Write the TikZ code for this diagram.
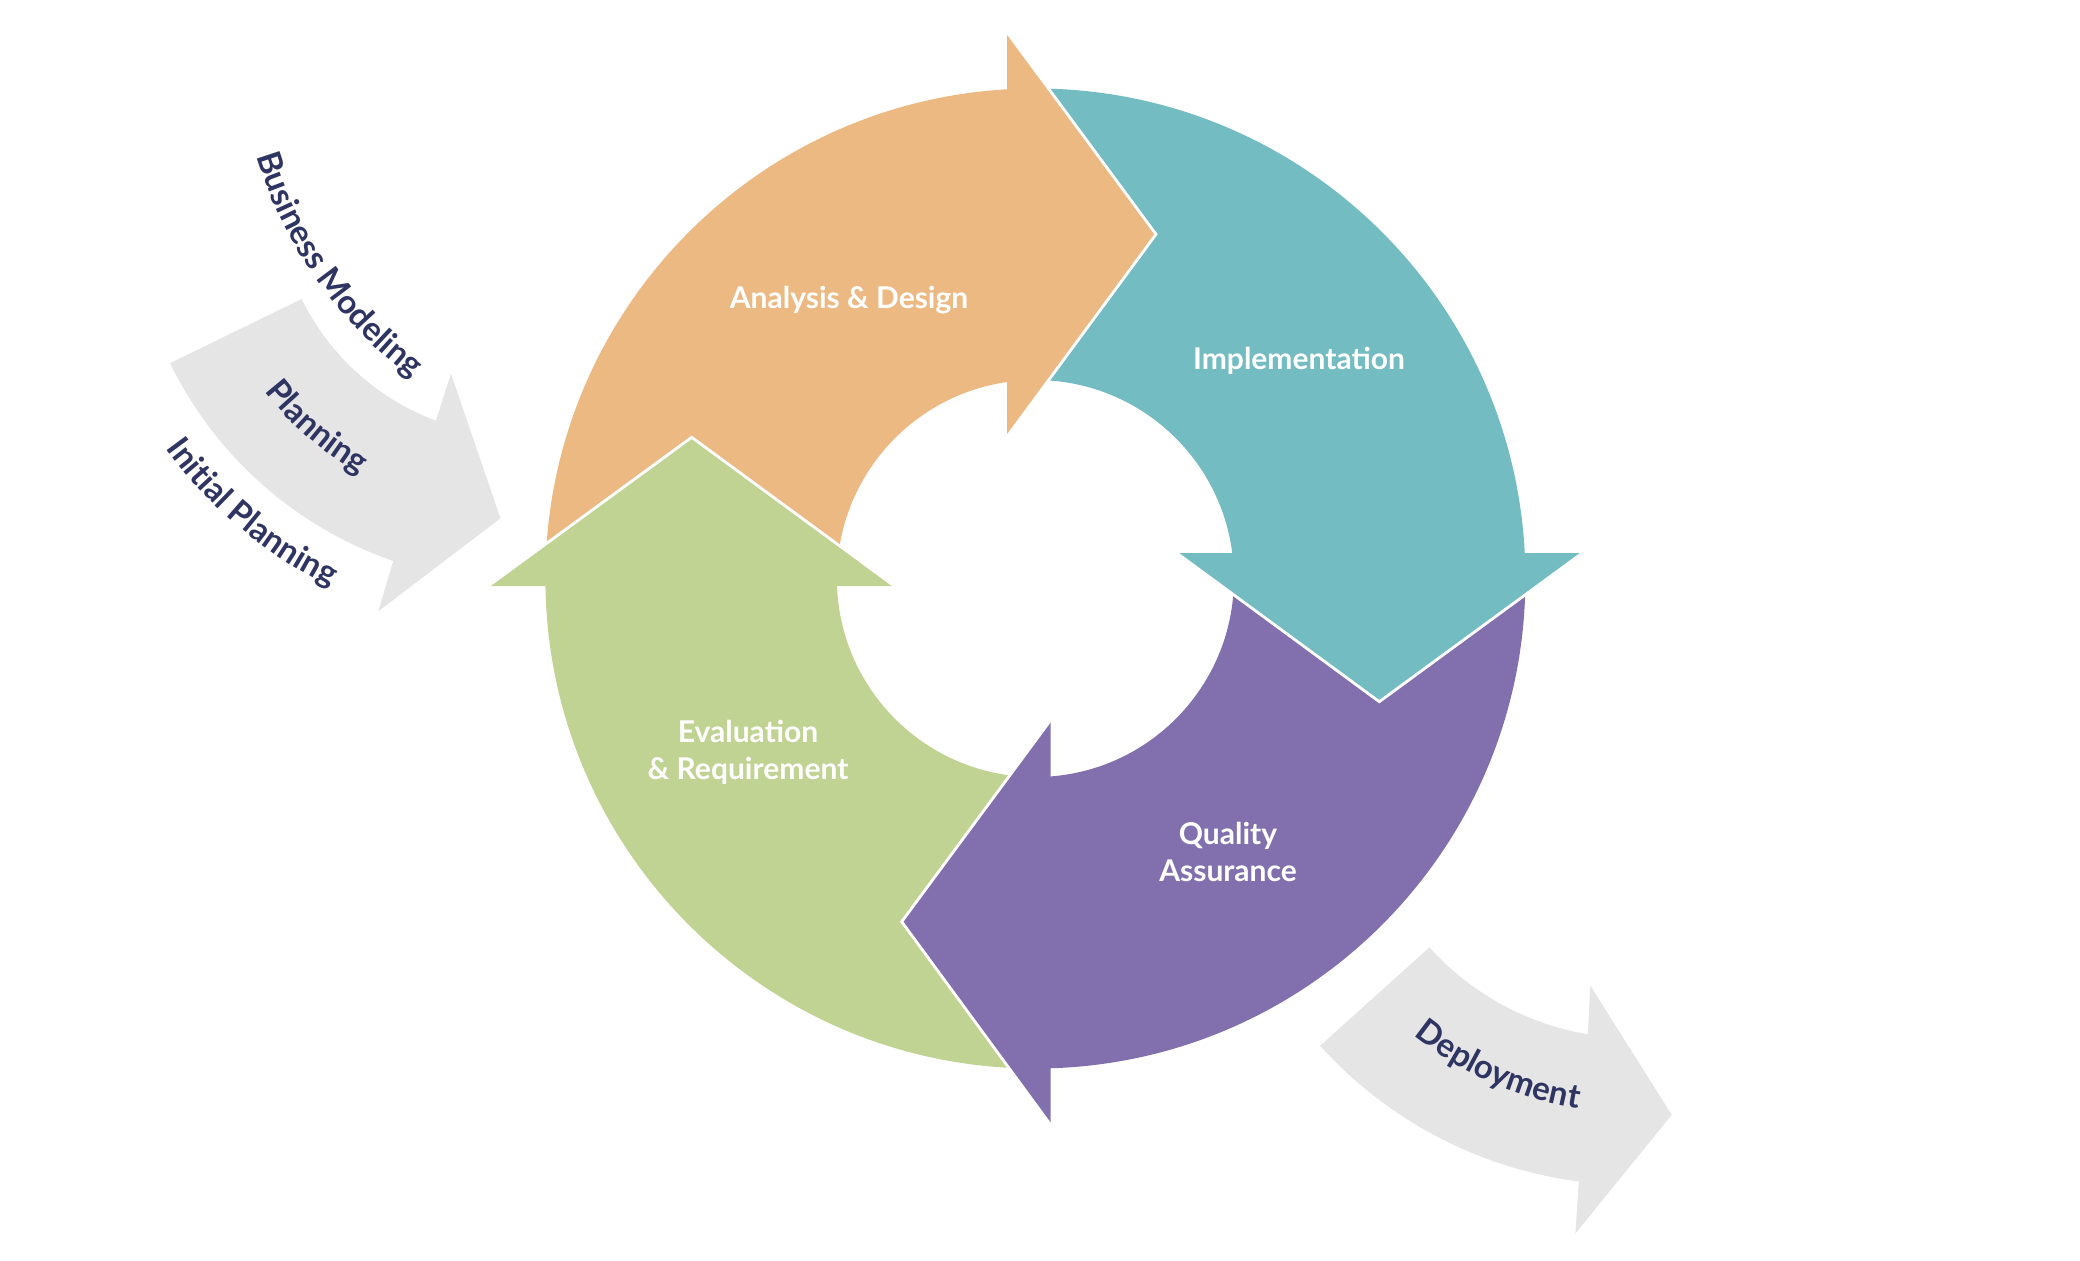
\documentclass[tikz,border=0pt]{standalone}
\usepackage{fontspec}
\setmainfont{Lato}
\usetikzlibrary{decorations.text}

\definecolor{segorange}{HTML}{ECB983}
\definecolor{segteal}{HTML}{73BCC2}
\definecolor{segpurple}{HTML}{826FAE}
\definecolor{seggreen}{HTML}{C0D393}
\definecolor{phasegrey}{HTML}{E5E5E5}
\definecolor{phasenavy}{HTML}{2E3562}

\begin{document}
\begin{tikzpicture}
[x=0.5pt,y=0.5pt,%
  seglabel/.style={text=white,font=\fontsize{15}{18.5}\selectfont\bfseries,align=center,inner sep=0pt},
  headedge/.style={draw=white,line width=1.4pt},
  arclabel/.style={decorate,decoration={text along path,text align=center,
    text color=phasenavy,text={|\fontsize{16.5}{19}\selectfont\bfseries|#1}}}]
\useasboundingbox (0,0) rectangle (2080,1260);
\coordinate (ring) at (1035.4,681.5);
\coordinate (inflow) at (521,1068);
\coordinate (outflow) at (1633,496);
\coordinate (bizarc) at (672,1229.4);

% grey arrows in and out of the cycle
\begin{scope}[shift={(inflow)}]
  \fill[phasegrey] (206:390.5) arc[start angle=206,end angle=250.9,radius=390.5]
    -- (251.2:443) -- (266.4:327) -- (248.9:194.6) -- (249.6:244)
    arc[start angle=249.6,end angle=206,radius=244] -- cycle;
  \path[arclabel=Planning] (212:325) arc[start angle=212,end angle=246,radius=325];
  \path[arclabel=Initial Planning] (206:438) arc[start angle=206,end angle=254,radius=438];
\end{scope}
\begin{scope}[shift={(bizarc)}]
  \path[arclabel=Business Modeling] (191:434) arc[start angle=191,end angle=239,radius=434];
\end{scope}
\begin{scope}[shift={(outflow)}]
  \fill[phasegrey] (222:421) arc[start angle=222,end angle=262.6,radius=421]
    -- (263:473) -- (276.3:353) -- (259.1:225.7) -- (260.5:274)
    arc[start angle=260.5,end angle=222,radius=274] -- cycle;
  \path[arclabel=Deployment] (227:349) arc[start angle=227,end angle=265,radius=349];
\end{scope}

% the cycle: ring parts, then heads on top
\begin{scope}[shift={(ring)}]
  \foreach \col/\a/\b in {segorange/180/90,segteal/90/0,segpurple/0/-90,seggreen/-90/-180}
    \fill[\col] (\a:490) arc[start angle=\a,end angle=\b,radius=490]
      -- (\b:198.5) arc[start angle=\b,end angle=\a,radius=198.5] -- cycle;
  \foreach \col/\p/\q/\r in {segorange/{-28.4,546.2}/{120.6,344.2}/{-28.4,141.8},
      segteal/{141.3,25.5}/{343.9,-123.2}/{546.9,25.5},
      segpurple/{15.3,-141.5}/{-133.7,-343.2}/{15.3,-546.5},
      seggreen/{-547.1,-7.5}/{-343.7,141.2}/{-141.1,-7.5}}
  {
    \fill[\col] (\p) -- (\q) -- (\r) -- cycle;
    \draw[headedge] (\p) -- (\q) -- (\r);
  }
\end{scope}

\node[seglabel,anchor=base] (design) at (849,951) {Analysis \& Design};
\node[seglabel,anchor=base] (impl) at (1299,890.4) {Implementation};
\node[seglabel] (quality) at (1228,408) {Quality\\Assurance};
\node[seglabel] (evaluation) at (748,507.5) {Evaluation\\\& Requirement};
\end{tikzpicture}
\end{document}
